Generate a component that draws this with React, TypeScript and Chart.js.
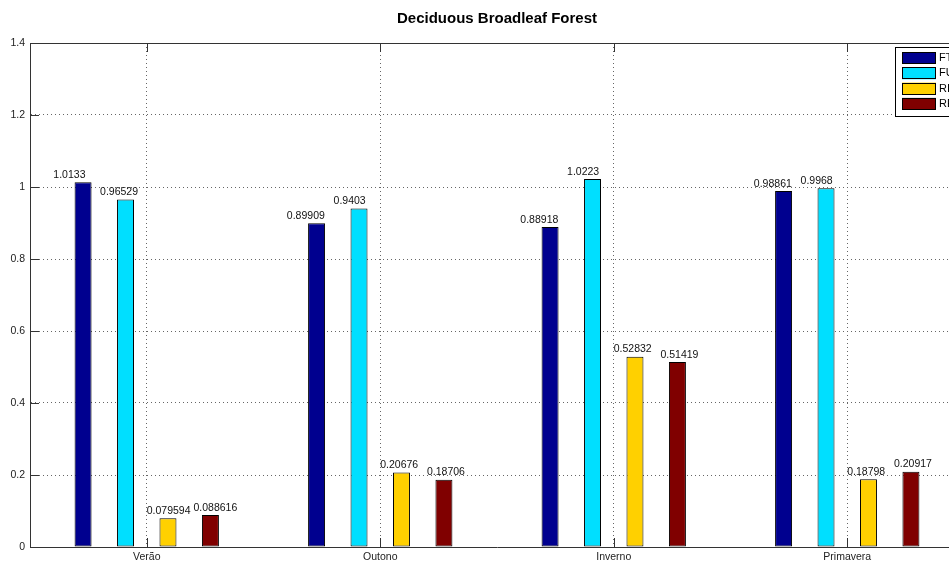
import React, { useEffect, useRef } from "react";
import { Chart, registerables } from "chart.js";

Chart.register(...registerables);

// Seasons along the x axis
const seasons = ["Verão", "Outono", "Inverno", "Primavera"];

// Series values per season
const seriesNames = ["FT", "FU", "RI", "RE"];
const ftValues = [1.0133, 0.89909, 0.88918, 0.98861];
const fuValues = [0.96529, 0.9403, 1.0223, 0.9968];
const riValues = [0.079594, 0.20676, 0.52832, 0.18798];
const reValues = [0.088616, 0.18706, 0.51419, 0.20917];

const seriesColors = ["#00008F", "#00DFFF", "#FFD000", "#800000"];

// y axis ticks
const yTicks = [0, 0.2, 0.4, 0.6, 0.8, 1, 1.2, 1.4];

const chartTitle = "Deciduous Broadleaf Forest";
const FONT = "'Liberation Sans', Arial, Helvetica, sans-serif";

const fmt = (v: number) => String(Number(v.toPrecision(5)));

// Title, value labels, inward ticks, box and legend
const decorPlugin = {
  id: "decor",
  afterDraw(chart: any) {
    const { ctx, chartArea } = chart;
    const xs = chart.scales.x;
    const ys = chart.scales.y;
    const { left, right, top, bottom } = chartArea;
    ctx.save();

    // title
    ctx.fillStyle = "#000";
    ctx.font = `bold 15px ${FONT}`;
    ctx.textAlign = "center";
    ctx.textBaseline = "middle";
    ctx.fillText(chartTitle, (left + right) / 2, 19);

    // box around the axes
    ctx.strokeStyle = "#333";
    ctx.lineWidth = 1;
    ctx.beginPath();
    ctx.moveTo(left, top + 0.5);
    ctx.lineTo(right, top + 0.5);
    ctx.moveTo(right - 0.5, top);
    ctx.lineTo(right - 0.5, bottom);
    ctx.stroke();

    // inward tick marks
    const tl = 9;
    ctx.beginPath();
    yTicks.forEach((t) => {
      const y = Math.round(ys.getPixelForValue(t)) + 0.5;
      ctx.moveTo(left, y);
      ctx.lineTo(left + tl, y);
      ctx.moveTo(right, y);
      ctx.lineTo(right - tl, y);
    });
    seasons.forEach((_, i) => {
      const x = Math.round(xs.getPixelForValue(i)) + 0.5;
      ctx.moveTo(x, bottom);
      ctx.lineTo(x, bottom - tl);
      ctx.moveTo(x, top);
      ctx.lineTo(x, top + tl);
    });
    ctx.stroke();

    // value labels above each bar
    const catW = xs.getPixelForValue(1) - xs.getPixelForValue(0);
    ctx.font = `10.5px ${FONT}`;
    ctx.textAlign = "left";
    ctx.textBaseline = "bottom";
    ctx.fillStyle = "#111";
    chart.data.datasets.forEach((ds: any, di: number) => {
      ds.data.forEach((v: number, ci: number) => {
        const x = xs.getPixelForValue(ci) + (di - 2) * 0.2 * catW;
        const y = ys.getPixelForValue(v) - 2;
        ctx.fillText(fmt(v), x, y);
      });
    });

    // legend
    const lx = right - 69;
    const ly = top + 4;
    ctx.fillStyle = "#fff";
    ctx.fillRect(lx, ly, 120, 69);
    ctx.strokeStyle = "#000";
    ctx.strokeRect(lx + 0.5, ly + 0.5, 120, 69);
    ctx.font = `11px ${FONT}`;
    ctx.textBaseline = "middle";
    chart.data.datasets.forEach((ds: any, di: number) => {
      const sy = ly + 5 + di * 15.3;
      ctx.fillStyle = ds.backgroundColor;
      ctx.fillRect(lx + 7, sy, 34, 12);
      ctx.strokeStyle = "#000";
      ctx.strokeRect(lx + 7.5, Math.round(sy) + 0.5, 33, 11);
      ctx.fillStyle = "#000";
      ctx.fillText(ds.label, lx + 44, sy + 6);
    });

    ctx.restore();
  },
};

export default function App() {
  const ref = useRef<HTMLCanvasElement | null>(null);

  useEffect(() => {
    if (!ref.current) return;
    const values = [ftValues, fuValues, riValues, reValues];
    const chart = new Chart(ref.current, {
      type: "bar",
      data: {
        labels: seasons,
        datasets: seriesNames.map((name, i) => ({
          label: name,
          data: values[i],
          backgroundColor: seriesColors[i],
          borderColor: "#000",
          borderWidth: 1,
          borderSkipped: false,
          categoryPercentage: 4 / 5.5,
          barPercentage: 0.4,
        })),
      },
      options: {
        responsive: false,
        animation: false,
        devicePixelRatio: 1,
        layout: { padding: { top: 43, right: 36, left: 0, bottom: 0 } },
        plugins: {
          legend: { display: false },
          title: { display: false },
          tooltip: { enabled: false },
        },
        scales: {
          x: {
            offset: true,
            afterFit: (s: any) => {
              s.height = 16;
            },
            grid: {
              offset: false,
              drawTicks: false,
              color: "#666",
              lineWidth: 1,
            } as any,
            // dash applies to the grid lines
            border: { display: true, color: "#333", width: 1, dash: [1, 3] } as any,
            ticks: {
              color: "#222",
              font: { family: FONT, size: 10.5 },
              padding: 4,
            },
          },
          y: {
            min: 0,
            max: 1.4,
            afterFit: (s: any) => {
              s.width = 30;
            },
            afterBuildTicks: (s: any) => {
              s.ticks = yTicks.map((v) => ({ value: v }));
            },
            grid: {
              drawTicks: false,
              color: "#666",
              lineWidth: 1,
            },
            border: { display: true, color: "#333", width: 1, dash: [1, 3] } as any,
            ticks: {
              color: "#222",
              font: { family: FONT, size: 10.5 },
              padding: 5,
              callback: (v: any) => String(Number(v)),
            },
          },
        },
      },
      plugins: [decorPlugin],
    });
    return () => chart.destroy();
  }, []);

  return (
    <div
      style={{
        position: "fixed",
        left: 0,
        top: 0,
        width: 949,
        height: 563,
        overflow: "hidden",
        background: "#fff",
      }}
    >
      <canvas
        ref={ref}
        width={1000}
        height={563}
        style={{ display: "block", width: 1000, height: 563 }}
      />
    </div>
  );
}
